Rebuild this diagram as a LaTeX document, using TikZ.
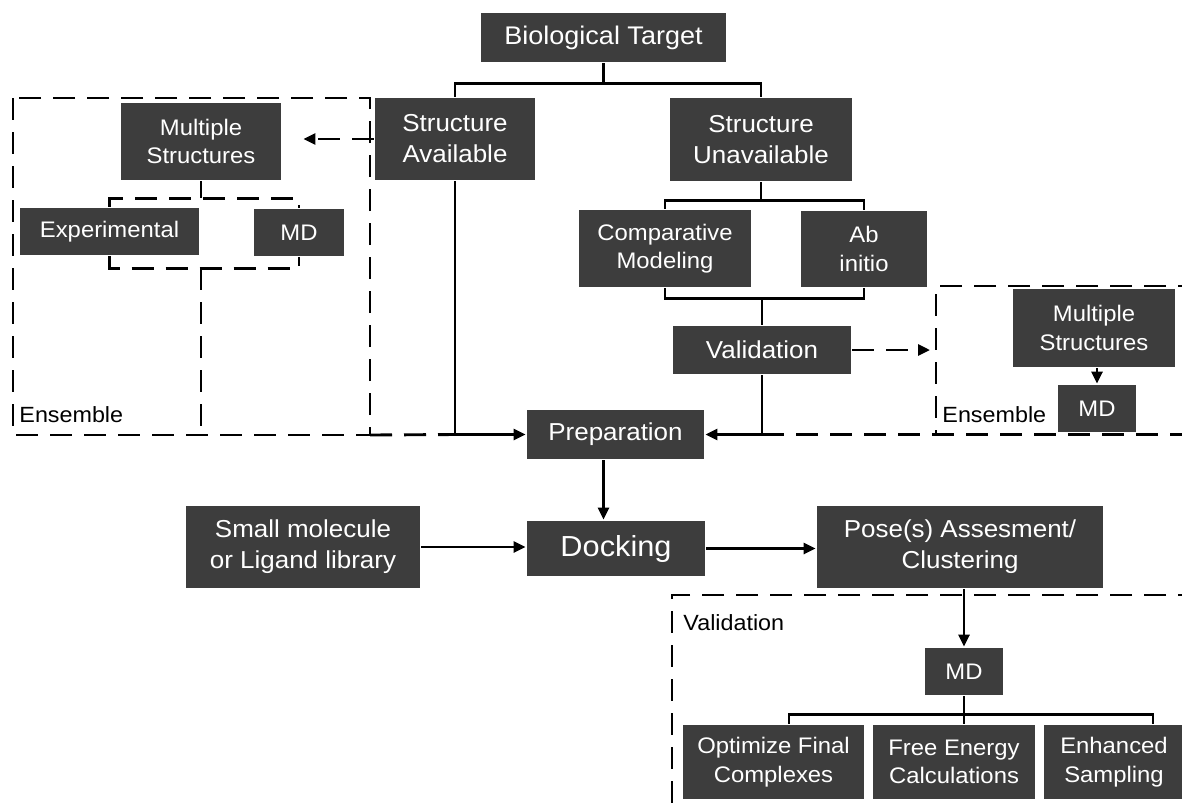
\documentclass[tikz,border=0pt]{standalone}
\usepackage{fontspec}
\setmainfont{Liberation Sans}[FakeStretch=1.06]
\usetikzlibrary{arrows.meta, calc}
\definecolor{boxgray}{RGB}{61,61,61}

\begin{document}
\begin{tikzpicture}[x=1pt, y=-1pt, line width=2.9pt,
    >={Triangle[length=12pt,width=11pt]},
    box/.style={fill=boxgray, text=white, inner sep=0pt, align=center, font=\fontsize{24.5}{31}\selectfont},
    boxsmall/.style={box, font=\fontsize{22.5}{28.5}\selectfont},
    wh/.style 2 args={minimum width=#1, minimum height=#2},
    dsh/.style={dash pattern=on 22pt off 12pt},
    tag/.style={anchor=base west, inner sep=0pt, font=\fontsize{22}{26}\selectfont}]
  \useasboundingbox (0,0) rectangle (1182,807);

  \node[box, wh={245pt}{49pt}, font=\fontsize{25.5}{31}\selectfont] (bt) at (603.5,37.5) {Biological Target};
  \node[box, wh={160pt}{82pt}] (sa) at (455,139) {Structure\\Available};
  \node[box, wh={182pt}{83pt}] (su) at (761,139.5) {Structure\\Unavailable};
  \node[boxsmall, wh={172pt}{77pt}] (cm) at (665,248.5) {Comparative\\Modeling};
  \node[boxsmall, wh={126pt}{76pt}] (ab) at (864,249) {Ab\\initio};
  \node[box, wh={178pt}{48pt}] (val) at (762,350) {Validation};
  \node[box, wh={177pt}{49pt}] (prep) at (615.5,434.5) {Preparation};
  \node[box, wh={178pt}{55pt}, font=\fontsize{29}{34}\selectfont] (dock) at (616,548.5) {Docking};
  \node[box, wh={234pt}{82pt}] (lib) at (303,547) {Small molecule\\or Ligand library};
  \node[box, wh={286pt}{82pt}] (pose) at (960,547) {Pose(s) Assesment/\\Clustering};

  % ensemble, left
  \node[boxsmall, wh={160pt}{77pt}] (msL) at (201,141.5) {Multiple\\Structures};
  \node[boxsmall, wh={179pt}{47pt}] (exp) at (109.5,231.5) {Experimental};
  \node[boxsmall, wh={90pt}{47pt}] (mdL) at (299,232.5) {MD};
  \node[tag] (ensL) at (18,422) {Ensemble};

  % ensemble, right
  \node[boxsmall, wh={162pt}{78pt}] (msR) at (1094,328) {Multiple\\Structures};
  \node[boxsmall, wh={78pt}{47pt}] (mdR) at (1097,408.5) {MD};
  \node[tag] (ensR) at (941,422) {Ensemble};

  % validation
  \node[boxsmall, wh={78pt}{47pt}] (mdV) at (964,671.5) {MD};
  \node[boxsmall, wh={181pt}{74pt}] (opt) at (773.5,762) {Optimize Final\\Complexes};
  \node[boxsmall, wh={162pt}{74pt}] (fe) at (954,762) {Free Energy\\Calculations};
  \node[boxsmall, wh={140pt}{74pt}] (enh) at (1114,762) {Enhanced\\Sampling};
  \node[tag] (valT) at (682,630) {Validation};

  \coordinate (fLtl) at (13,98);
  \coordinate (fLbr) at (370,435);
  \coordinate (fRtl) at (936,286);
  \coordinate (fVtl) at (672,595);
  \draw[dsh] (fLtl) rectangle (fLbr);
  \draw[dsh] (fLbr) -- (sa.south |- prep.west);
  \draw[dsh] (1200,286) -- (fRtl) -- (fRtl |- prep.east);
  \draw[dsh] (val.south |- prep.east) -- ++(440,0);
  \draw[dsh] (1200,595) -- (fVtl) -- (672,820);

  \coordinate (tj) at ($(bt.south)+(0,20)$);
  \draw (bt.south) -- (tj);
  \draw (sa.north) |- (tj) -| (su.north);
  \coordinate (uj) at ($(su.south)+(0,18)$);
  \draw (su.south) -- (uj);
  \draw (cm.north) |- (uj) -| (ab.north);
  \coordinate (vj) at ($(val.north)+(0,-26)$);
  \draw (cm.south) |- (vj) -| (ab.south);
  \draw (vj) -- (val.north);
  \draw[->] (sa.south) |- (prep.west);
  \draw[->] (val.south) |- (prep.east);
  \draw[->] (bt |- prep.south) -- (bt |- dock.north);
  \draw[->] (lib.east) -- (lib.east -| dock.west);
  \draw[->] (dock.east) -- (dock.east -| pose.west);
  \draw[->] (mdV |- pose.south) -- (mdV.north);
  \coordinate (mj) at ($(mdV.south)+(0,18)$);
  \draw (mdV.south) -- (mdV |- fe.north);
  \draw ([xshift=15.5pt]opt.north) |- (mj) -| ([xshift=39pt]enh.north);

  \draw[dsh, ->] (sa.west) -- ($(msL.east |- sa.west)+(21,0)$);
  \coordinate (lj) at ($(msL.south)+(0,17)$);
  \draw (msL.south) -- (lj);
  \draw[dsh] (exp.north) |- (lj) -| (mdL.north);
  \coordinate (lk) at ($(msL.south |- exp.south)+(0,12)$);
  \draw[dsh] (exp.south) |- (lk) -| (mdL.south);
  \draw[dsh] (lk) -- (lk |- fLbr);

  \draw[dsh, ->] (val.east) -- ($(fRtl |- val.east)+(-6,0)$);
  \draw[->] (mdR |- msR.south) -- (mdR.north);
\end{tikzpicture}
\end{document}
